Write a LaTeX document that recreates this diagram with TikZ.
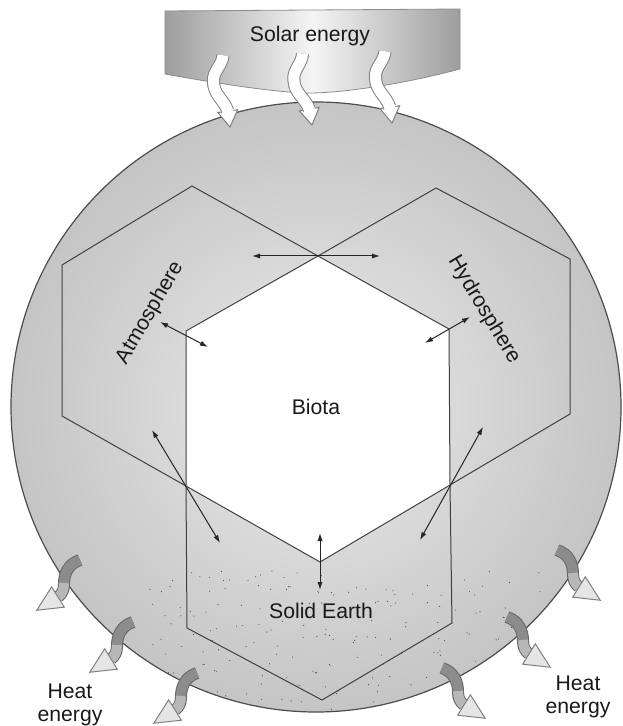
\documentclass[tikz,border=0pt]{standalone}
\usepackage{fontspec}
\setmainfont{Liberation Sans}
\usetikzlibrary{arrows.meta,calc}

\pgfdeclareradialshading{globeshade}{\pgfpoint{0bp}{0bp}}{%
  color(0bp)=(black!8); color(20bp)=(black!20); color(36bp)=(black!29); color(50bp)=(black!37)}

% wavy solar ray: tip x, tip y, rotation
\newcommand{\sunray}[3]{%
  \begin{scope}[shift={(#1,#2)},rotate=#3]
    \filldraw[fill=white,draw=black!50,line width=0.5pt] (0,0) -- (-10,-16) -- (10,-16) -- cycle;
    \draw[black!50,line width=6.5pt] (0,-16) .. controls (-2,-28) and (-12,-34) .. (-10,-48)
      .. controls (-9,-58) and (1,-62) .. (3,-72);
    \draw[white,line width=5.5pt] (0,-16) .. controls (-2,-28) and (-12,-34) .. (-10,-48)
      .. controls (-9,-58) and (1,-62) .. (3,-72);
    \draw[white,line width=5.5pt] (0,-12) -- (0,-17);
  \end{scope}}

% curled heat ray: start x, start y, side (1 left, -1 right)
\newcommand{\heatray}[3]{%
  \begin{scope}[shift={(#1,#2)},xscale=#3]
    \draw[black!60,line width=6pt] (0,0) .. controls (-12,4) and (-16,14) .. (-16,24)
      .. controls (-16,30) and (-18,34) .. (-22,37);
    \draw[black!45,line width=5pt] (0,0) .. controls (-12,4) and (-16,14) .. (-16,24);
    \draw[black!28,line width=5pt] (-16,23) .. controls (-16,30) and (-18,34) .. (-22,37);
    \begin{scope}[shift={(-22,37)},rotate=212]
      \filldraw[fill=black!10,draw=black!50,line width=0.5pt] (25,0) -- (0,12) -- (0,-12) -- cycle;
    \end{scope}
  \end{scope}}

\begin{document}
\begin{tikzpicture}[
  x=0.5pt,
  y=-0.5pt,
  font=\fontsize{10.6}{11.5}\selectfont,
  outline/.style={draw=black!75,line width=0.5pt},
  biarrow/.style={draw=black!85,line width=0.5pt,
    {Latex[length=4pt,width=2.6pt]}-{Latex[length=4pt,width=2.6pt]}},
  areatext/.style={text=black!90,inner sep=0pt}
]
\useasboundingbox (0,0) rectangle (622,726);

% Solar band
\shade[left color=black!38,right color=black!38,middle color=black!4,draw=black!45,line width=0.4pt]
  (165,11) -- (460,9) -- (460,69) .. controls (400,85) and (340,93) .. (310,93)
  .. controls (280,93) and (220,84) .. (165,74) -- cycle;
\node[areatext] (solar) at (310,36) {Solar energy};

% Globe
\coordinate (globe) at (316,407);
\shade[shading=globeshade,draw=black!70,line width=0.6pt] (globe) circle[radius=305];

% Speckles of the solid earth
\begin{scope}
  \clip (globe) circle[radius=304];
  \pgfmathsetseed{7}
  \foreach \i in {1,...,220}
    \fill[black!70] ({150+400*rnd},{570+150*rnd}) circle[radius=0.6];
\end{scope}

% Hexagon corners
\coordinate (T) at (318,256);
\coordinate (UR) at (449,329);
\coordinate (LR) at (450,485);
\coordinate (B) at (320,562);
\coordinate (LL) at (186,486);
\coordinate (UL) at (186,331);

% Atmosphere
\coordinate (A1) at (192,186);
\coordinate (A2) at (62,265);
\coordinate (A3) at (62,416);
\draw[outline] (T) -- (A1) -- (A2) -- (A3) -- (LL);

% Hydrosphere
\coordinate (H1) at (436,188);
\coordinate (H2) at (570,259);
\coordinate (H3) at (570,414);
\draw[outline] (T) -- (H1) -- (H2) -- (H3) -- (LR);

% Solid Earth
\coordinate (S1) at (187,628);
\coordinate (S2) at (322,700);
\coordinate (S3) at (452,623);
\draw[outline] (LL) -- (S1) -- (S2) -- (S3) -- (LR);

% Biota
\filldraw[fill=white,outline] (T) -- (UR) -- (LR) -- (B) -- (LL) -- (UL) -- cycle;

% Exchanges
\coordinate (ah1) at (252,256);
\coordinate (ah2) at (380,256);
\coordinate (ab1) at (160,322);
\coordinate (ab2) at (208,347);
\coordinate (hb1) at (470,317);
\coordinate (hb2) at (425,343);
\coordinate (as1) at (152,430);
\coordinate (as2) at (220,543);
\coordinate (hs1) at (483,427);
\coordinate (hs2) at (420,540);
\coordinate (bs1) at (320,533);
\coordinate (bs2) at (320,590);
\draw[biarrow] (ah1) -- (ah2);
\draw[biarrow] (ab1) -- (ab2);
\draw[biarrow] (hb1) -- (hb2);
\draw[biarrow] (as1) -- (as2);
\draw[biarrow] (hs1) -- (hs2);
\draw[biarrow] (bs1) -- (bs2);

% Labels
\node[areatext,rotate=60] (atmo) at (150,313) {Atmosphere};
\node[areatext,rotate=-59] (hydro) at (484,310) {Hydrosphere};
\node[areatext] (biota) at (316,407) {Biota};
\node[areatext] (earth) at (321,611) {Solid Earth};

% Solar energy in
\sunray{230}{127}{8}
\sunray{312}{125}{10}
\sunray{392}{123}{8}

% Heat energy out
\heatray{80}{560}{1}
\heatray{133}{622}{1}
\heatray{197}{673}{1}
\heatray{557}{550}{-1}
\heatray{507}{617}{-1}
\heatray{442}{668}{-1}
\node[areatext,align=center] (heatl) at (70,705) {Heat\\energy};
\node[areatext,align=center] (heatr) at (578,697) {Heat\\energy};
\end{tikzpicture}
\end{document}
